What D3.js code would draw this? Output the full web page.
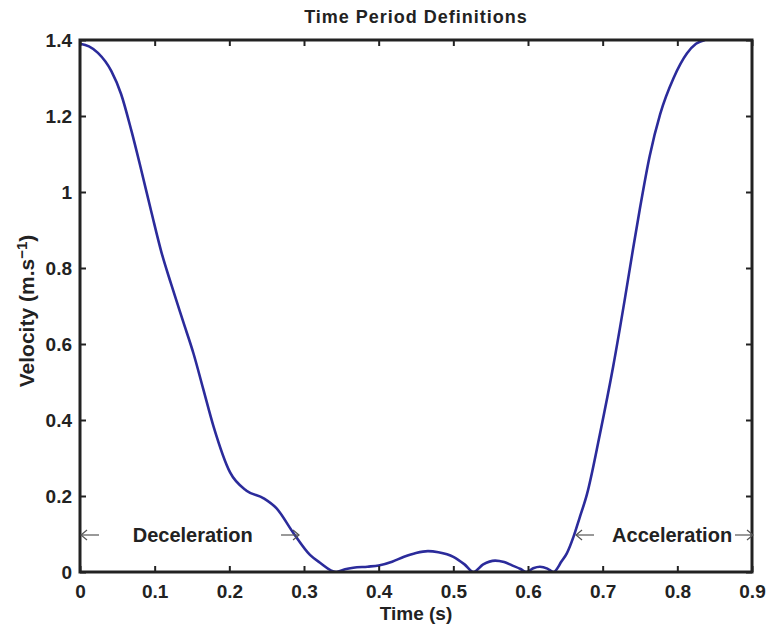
<!DOCTYPE html>
<html>
  <head>
    <style>
      body { margin: 0; background: #fff; }
      text { font-family: "Liberation Sans", Arial, sans-serif; font-weight: bold; fill: #222; }
    </style>
  </head>

  <body>

    <svg class="surface" width="768" height="631"></svg>

    <script src="https://cdn.jsdelivr.net/npm/d3@7/dist/d3.min.js" charset="utf-8"></script>
    <script>

      // velocity trace (time in s, velocity in m/s)
      const time = [
        0.000, 0.012, 0.024, 0.042, 0.055, 0.069, 0.082, 0.096, 0.109, 0.122,
        0.138, 0.152, 0.165, 0.179, 0.201, 0.223, 0.246, 0.263, 0.286, 0.308,
        0.321, 0.343, 0.355, 0.366, 0.385, 0.400, 0.418, 0.434, 0.450, 0.466,
        0.480, 0.500, 0.515, 0.527, 0.540, 0.556, 0.568, 0.578, 0.590, 0.598,
        0.607, 0.616, 0.626, 0.634, 0.645, 0.652, 0.661, 0.669, 0.679, 0.696,
        0.714, 0.730, 0.740, 0.750, 0.763, 0.777, 0.795, 0.813, 0.825, 0.837
      ]
      const velocity = [
        1.390, 1.383, 1.366, 1.318, 1.258, 1.160, 1.058, 0.944, 0.842, 0.758,
        0.660, 0.575, 0.482, 0.382, 0.262, 0.214, 0.194, 0.168, 0.102, 0.045,
        0.025, 0.000, 0.007, 0.011, 0.014, 0.017, 0.027, 0.040, 0.050, 0.055,
        0.052, 0.040, 0.020, 0.000, 0.020, 0.030, 0.026, 0.018, 0.008, 0.000,
        0.010, 0.014, 0.009, 0.000, 0.028, 0.049, 0.093, 0.142, 0.205, 0.360,
        0.540, 0.722, 0.842, 0.958, 1.095, 1.205, 1.300, 1.365, 1.390, 1.400
      ]

      const xTicks = [0, 0.1, 0.2, 0.3, 0.4, 0.5, 0.6, 0.7, 0.8, 0.9]
      const xTickLabels = ['0', '0.1', '0.2', '0.3', '0.4', '0.5', '0.6', '0.7', '0.8', '0.9']
      const yTicks = [0, 0.2, 0.4, 0.6, 0.8, 1.0, 1.2, 1.4]
      const yTickLabels = ['0', '0.2', '0.4', '0.6', '0.8', '1', '1.2', '1.4']

      // phase annotations: arrow from start to end at a given velocity level
      const phaseNames = ['Deceleration', 'Acceleration']
      const phaseStart = [0, 0.663]
      const phaseEnd = [0.292, 0.9]
      const phaseLabelAt = [0.151, 0.793]
      const phaseLevel = 0.1

      const mLeft = 80, mRight = 752, mTop = 40, mBottom = 572

      const x = d3.scaleLinear().domain([0, 0.9]).range([mLeft, mRight])
      const y = d3.scaleLinear().domain([0, 1.4]).range([mBottom, mTop])

      const svg = d3.select('.surface')

      svg.append('defs').append('clipPath').attr('id', 'plot-clip')
        .append('rect')
        .attr('x', mLeft).attr('y', mTop - 1)
        .attr('width', mRight - mLeft).attr('height', mBottom - mTop + 1)

      const points = time.map((t, i) => [t, velocity[i]])

      svg.append('path')
        .datum(points)
        .attr('clip-path', 'url(#plot-clip)')
        .attr('fill', 'none')
        .attr('stroke', '#2b2b9b')
        .attr('stroke-width', 2.6)
        .attr('stroke-linejoin', 'round')
        .attr('d', d3.line()
          .x(d => x(d[0]))
          .y(d => y(d[1]))
          .curve(d3.curveMonotoneX))

      // axes, ticks pointing inwards on all four sides
      const styleAxis = g => {
        g.select('.domain').remove()
        g.selectAll('.tick line').attr('stroke', '#222').attr('stroke-width', 2)
        g.selectAll('.tick text')
          .style('font-family', '"Liberation Sans", Arial, sans-serif')
          .style('font-weight', 'bold')
          .style('font-size', '19px')
          .attr('fill', '#222')
      }

      svg.append('g')
        .attr('transform', `translate(0,${mBottom})`)
        .call(d3.axisBottom(x).tickValues(xTicks).tickSizeInner(-6).tickSizeOuter(0)
          .tickPadding(13).tickFormat((d, i) => xTickLabels[i]))
        .call(styleAxis)

      svg.append('g')
        .attr('transform', `translate(0,${mTop})`)
        .call(d3.axisTop(x).tickValues(xTicks).tickSizeInner(-6).tickSizeOuter(0).tickFormat(''))
        .call(styleAxis)

      svg.append('g')
        .attr('transform', `translate(${mLeft},0)`)
        .call(d3.axisLeft(y).tickValues(yTicks).tickSizeInner(-6).tickSizeOuter(0)
          .tickPadding(8).tickFormat((d, i) => yTickLabels[i]))
        .call(styleAxis)

      svg.append('g')
        .attr('transform', `translate(${mRight},0)`)
        .call(d3.axisRight(y).tickValues(yTicks).tickSizeInner(-6).tickSizeOuter(0).tickFormat(''))
        .call(styleAxis)

      svg.append('rect')
        .attr('x', mLeft).attr('y', mTop)
        .attr('width', mRight - mLeft).attr('height', mBottom - mTop)
        .attr('fill', 'none')
        .attr('stroke', '#222')
        .attr('stroke-width', 3)

      // annotations
      const arrowLen = 18
      const arrow = (x1, x2, yy) => {
        const dir = Math.sign(x2 - x1)
        const g = svg.append('g').attr('stroke', '#555').attr('stroke-width', 1.2).attr('fill', 'none')
        g.append('line').attr('x1', x1).attr('x2', x2).attr('y1', yy).attr('y2', yy)
        g.append('path')
          .attr('d', `M${x2 - dir * 6},${yy - 5}L${x2},${yy}L${x2 - dir * 6},${yy + 5}`)
      }

      phaseNames.forEach((name, i) => {
        const yy = y(phaseLevel) + 1
        const xs = x(phaseStart[i]) + 1
        const xe = x(phaseEnd[i]) + 1
        arrow(xs + arrowLen, xs, yy)
        arrow(xe - arrowLen, xe, yy)
        svg.append('text')
          .attr('x', x(phaseLabelAt[i]))
          .attr('y', yy)
          .attr('dy', '0.35em')
          .attr('text-anchor', 'middle')
          .style('font-size', '20px')
          .text(name)
      })

      // title and labels
      svg.append('text')
        .attr('x', (mLeft + mRight) / 2)
        .attr('y', 23)
        .attr('text-anchor', 'middle')
        .style('font-size', '18px')
        .style('letter-spacing', '1px')
        .text('Time Period Definitions')

      svg.append('text')
        .attr('x', (mLeft + mRight) / 2)
        .attr('y', 620)
        .attr('text-anchor', 'middle')
        .style('font-size', '19px')
        .text('Time (s)')

      const ylab = svg.append('text')
        .attr('transform', `translate(34,311) rotate(-90)`)
        .attr('text-anchor', 'middle')
        .style('font-size', '21px')
      ylab.append('tspan').text('Velocity (m.s')
      ylab.append('tspan').attr('dy', '-0.5em').style('font-size', '15px').text('\u22121')
      ylab.append('tspan').attr('dy', '0.35em').text(')')

    </script>
  </body>

</html>
